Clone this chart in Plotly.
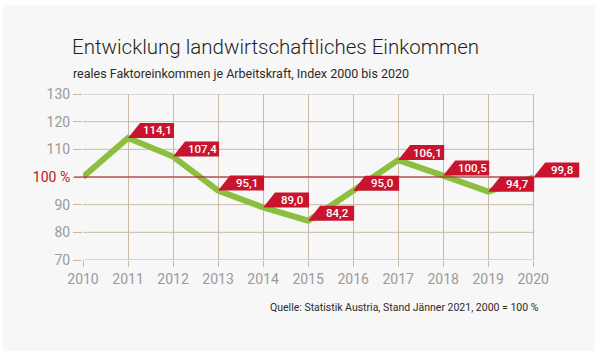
import plotly.graph_objects as go

years = [2010, 2011, 2012, 2013, 2014, 2015, 2016, 2017, 2018, 2019, 2020]
index_values = [100.0, 114.1, 107.4, 95.1, 89.0, 84.2, 95.0, 106.1, 100.5, 94.7, 99.8]
y_ticks = [70, 80, 90, 100, 110, 120, 130]
y_tick_labels = ["70", "80", "90", "<span style='color:#b8172c'>100 %</span>", "110", "120", "130"]

title_text = "Entwicklung landwirtschaftliches Einkommen"
subtitle_text = "reales Faktoreinkommen je Arbeitskraft, Index 2000 bis 2020"
source_text = "Quelle: Statistik Austria, Stand Jänner 2021, 2000 = 100 %"

FONT = "Roboto, Lato, sans-serif"
GRID = "#c9baa8"
RED = "#c8142c"
GREEN = "#8cbf40"
PANEL = "#f7f7f7"

# plot area geometry (pixels)
L, R, T, B = 83, 585, 94, 260
PW, PH = R - L, B - T

fig = go.Figure()
fig.add_trace(go.Scatter(
    x=years, y=index_values, mode="lines",
    line=dict(color=GREEN, width=6), hoverinfo="skip", showlegend=False,
))

shapes = [dict(type="rect", xref="paper", yref="paper",
               x0=(3 - L) / PW, x1=(595 - L) / PW, y0=(B - 351) / PH, y1=(B - 5) / PH,
               fillcolor=PANEL, line=dict(width=0), layer="below")]
# horizontal grid lines ending at the last year
for t in y_ticks:
    shapes.append(dict(type="line", xref="x", yref="y", x0=years[0], x1=years[-1], y0=t, y1=t,
                       line=dict(color=GRID, width=1), layer="below"))
shapes.append(dict(type="line", xref="paper", yref="y", x0=-9 / PW, x1=(533 - L) / PW, y0=100, y1=100,
                   line=dict(color="#b0152a", width=1.2), layer="above"))
annotations = []
for yr, v in zip(years, index_values):
    if yr == years[0]:
        continue
    txt = f"{v:.1f}".replace(".", ",")
    shapes.append(dict(
        type="path", xref="x", yref="y", xsizemode="pixel", ysizemode="pixel",
        xanchor=yr, yanchor=v, path="M0,0 L12,15 L46,15 L46,0 Z",
        fillcolor=RED, line=dict(width=0), layer="above",
    ))
    annotations.append(dict(
        x=yr, y=v, xref="x", yref="y", text=txt, showarrow=False,
        xanchor="center", yanchor="middle", xshift=29, yshift=7.5,
        font=dict(family=FONT, size=11.5, color="white", weight=500),
    ))

annotations.append(dict(
    xref="paper", yref="paper", x=(268 - L) / PW, y=-(307 - B) / PH,
    xanchor="left", yanchor="middle", text=source_text, showarrow=False,
    font=dict(family=FONT, size=10.5, color="#2b2b2b"),
))
annotations.append(dict(
    xref="paper", yref="paper", x=(71 - L) / PW, y=1 + (T - 73) / PH,
    xanchor="left", yanchor="middle", text=subtitle_text, showarrow=False,
    font=dict(family=FONT, size=12.5, color="#2b2b2b"),
))
annotations.append(dict(
    xref="paper", yref="paper", x=(70 - L) / PW, y=1 + (T - 47) / PH,
    xanchor="left", yanchor="middle", text=title_text, showarrow=False,
    font=dict(family=FONT, size=20.5, color="#1e1e1e", weight=300),
))

fig.update_layout(
    width=602, height=351,
    margin=dict(l=L, r=602 - R, t=T, b=351 - B),
    paper_bgcolor="white", plot_bgcolor=PANEL,
    shapes=shapes, annotations=annotations,
    xaxis=dict(range=[2010, 2021.15], tickvals=years, showgrid=True, gridcolor=GRID, gridwidth=1,
               zeroline=False, showline=False, ticks="outside", ticklen=6, tickcolor=GRID,
               tickfont=dict(family=FONT, size=14, color="#9a9a9a"), fixedrange=True),
    yaxis=dict(range=[70, 130], tickvals=y_ticks, ticktext=y_tick_labels, showgrid=False,
               zeroline=False, showline=False,
               ticks="outside", ticklen=9, tickcolor=GRID,
               tickfont=dict(family=FONT, size=14, color="#9a9a9a"), fixedrange=True),
)

fig.write_html("out.html", config={"displayModeBar": False})
